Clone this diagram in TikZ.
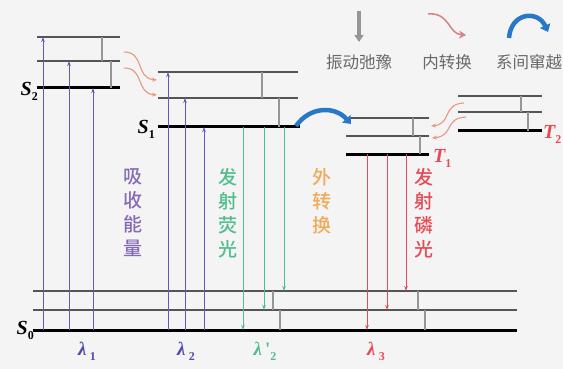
\documentclass[tikz,border=0pt]{standalone}
\usepackage{fontspec}
\newfontfamily\cjk{Noto Sans CJK SC}
\newfontfamily\cjkb{Noto Sans CJK SC Medium}
\newfontfamily\tms{Liberation Serif}
\usetikzlibrary{arrows.meta}
\definecolor{bgc}{RGB}{244,244,244}
\definecolor{levgray}{RGB}{85,85,85}
\definecolor{vibgray}{RGB}{150,150,150}
\definecolor{absc}{RGB}{95,90,190}
\definecolor{lamc}{RGB}{80,75,175}
\definecolor{abstxt}{RGB}{135,105,185}
\definecolor{fluoc}{RGB}{80,190,140}
\definecolor{phosc}{RGB}{230,75,85}
\definecolor{wavec}{RGB}{235,150,130}
\definecolor{wavel}{RGB}{210,130,130}
\definecolor{extc}{RGB}{240,170,90}
\definecolor{iscc}{RGB}{40,120,200}
\definecolor{legtxt}{RGB}{105,105,105}
\tikzset{
  lev/.style={draw=levgray,line width=1.3pt},
  gnd/.style={draw=black,line width=3pt},
  vib/.style={draw=vibgray,line width=2.4pt},
  absarrow/.style={draw=absc,line width=0.9pt,-{Stealth[length=5pt,width=3.5pt]}},
  fluarrow/.style={draw=fluoc,line width=0.9pt,-{Stealth[length=5pt,width=3.5pt]}},
  phoarrow/.style={draw=phosc,line width=0.9pt,-{Stealth[length=5pt,width=3.5pt]}},
  wavy/.style={draw=wavec,line width=1.1pt,-{Stealth[length=5pt,width=4pt,open]}},
  iscarrow/.style={draw=iscc,line width=4.5pt,-{Triangle[length=7pt,width=11pt]}},
  vtext/.style={font=\cjkb\fontsize{19}{24}\selectfont,align=center,anchor=north},
  legtext/.style={font=\cjk\fontsize{16.5}{18}\selectfont,text=legtxt},
  slabel/.style={font=\tms\fontsize{20}{22}\selectfont\bfseries\itshape,inner sep=1pt},
  lam/.style={font=\tms\fontsize{19}{22}\selectfont\bfseries\itshape}
}
\newcommand{\mysub}[1]{\raisebox{-0.25em}{\fontsize{12}{12}\selectfont\upshape #1}}
\begin{document}
\begin{tikzpicture}[x=1pt,y=-1pt]
\fill[bgc] (0,0) rectangle (563,369);
\useasboundingbox (0,0) rectangle (563,369);
% ---- S0 ----
\draw[gnd] (33,330) -- (517,330);
\draw[lev] (33,310) -- (517,310);
\draw[lev] (33,291) -- (517,291);
\draw[vib] (273,291) -- (273,310);
\draw[vib] (280,310) -- (280,330);
\draw[vib] (418,291) -- (418,310);
\draw[vib] (425,310) -- (425,330);
\node[slabel,anchor=east] (s0) at (35,330) {S\mysub{0}};
% ---- S2 ----
\draw[gnd] (37,88) -- (120,88);
\draw[lev] (37,61) -- (120,61);
\draw[lev] (37,37) -- (120,37);
\draw[vib] (102,37) -- (102,61);
\draw[vib] (111,61) -- (111,88);
\node[slabel,anchor=east] (s2) at (39,91) {S\mysub{2}};
% ---- S1 ----
\draw[gnd] (158,127) -- (300,127);
\draw[lev] (158,98) -- (298,98);
\draw[lev] (158,72) -- (298,72);
\draw[vib] (262,72) -- (262,98);
\draw[vib] (279,98) -- (279,127);
\node[slabel,anchor=east] (s1) at (156,129) {S\mysub{1}};
% ---- T1 ----
\draw[gnd] (346,154) -- (429,154);
\draw[lev] (346,136) -- (429,136);
\draw[lev] (346,118) -- (429,118);
\draw[vib] (413,118) -- (413,136);
\draw[vib] (420,136) -- (420,154);
\node[slabel,anchor=west,text=phosc] (t1) at (432,158) {T\mysub{1}};
% ---- T2 ----
\draw[gnd] (458,131) -- (542,131);
\draw[lev] (458,112) -- (542,112);
\draw[lev] (458,96) -- (542,96);
\draw[vib] (521,96) -- (521,112);
\draw[vib] (528,112) -- (528,131);
\node[slabel,anchor=west,text=phosc] (t2) at (542,134) {T\mysub{2}};
% ---- absorption ----
\draw[absarrow] (43,330) -- (43,37);
\draw[absarrow] (69,330) -- (69,61);
\draw[absarrow] (93,330) -- (93,88);
\draw[absarrow] (168,330) -- (168,72);
\draw[absarrow] (185,330) -- (185,98);
\draw[absarrow] (204,330) -- (204,127);
% ---- fluorescence ----
\draw[fluarrow] (243,127) -- (243,330);
\draw[fluarrow] (264,127) -- (264,310);
\draw[fluarrow] (284,127) -- (284,291);
% ---- phosphorescence ----
\draw[phoarrow] (367,154) -- (367,330);
\draw[phoarrow] (387,154) -- (387,310);
\draw[phoarrow] (406,154) -- (406,291);
% ---- internal conversion wavy arrows ----
\draw[wavy] (124,52) .. controls (145,52) and (135,78) .. (157,80);
\draw[wavy] (124,68) .. controls (145,68) and (135,93) .. (157,95);
\draw[wavy] (464,103) .. controls (442,104) and (452,124) .. (431,126);
\draw[wavy] (466,117) .. controls (444,118) and (454,136) .. (432,138);
% ---- ISC ----
\draw[iscarrow] (296,126) .. controls (310,106) and (335,106) .. (351,124);
% ---- vertical texts ----
\node[vtext,text=abstxt] (tabs) at (133,165) {吸\\收\\能\\量};
\node[vtext,text=fluoc] (tflu) at (228,165) {发\\射\\荧\\光};
\node[vtext,text=extc] (text) at (322,165) {外\\转\\换};
\node[vtext,text=phosc] (tpho) at (424,165) {发\\射\\磷\\光};
% ---- lambdas ----
\node[lam,text=lamc] (l1) at (87,351) {λ\,\mysub{1}};
\node[lam,text=lamc] (l2) at (186,351) {λ\,\mysub{2}};
\node[lam,text=fluoc] (l2p) at (265,351) {λ\upshape\,'\mysub{2}};
\node[lam,text=phosc] (l3) at (376,351) {λ\,\mysub{3}};
% ---- legend ----
\draw[draw=vibgray,line width=4pt,-{Triangle[length=7pt,width=9pt]}] (359,11) -- (359,42);
\node[legtext] (lg1) at (359,62) {振动弛豫};
\draw[draw=wavel,line width=1.5pt,-{Stealth[length=7pt,width=8pt,open]}] (428,14) .. controls (450,12) and (448,34) .. (466,35);
\node[legtext] (lg2) at (447,62) {内转换};
\draw[iscarrow] (509,38) .. controls (511,12) and (538,10) .. (548,32);
\node[legtext] (lg3) at (529,62) {系间窜越};
\end{tikzpicture}
\end{document}
